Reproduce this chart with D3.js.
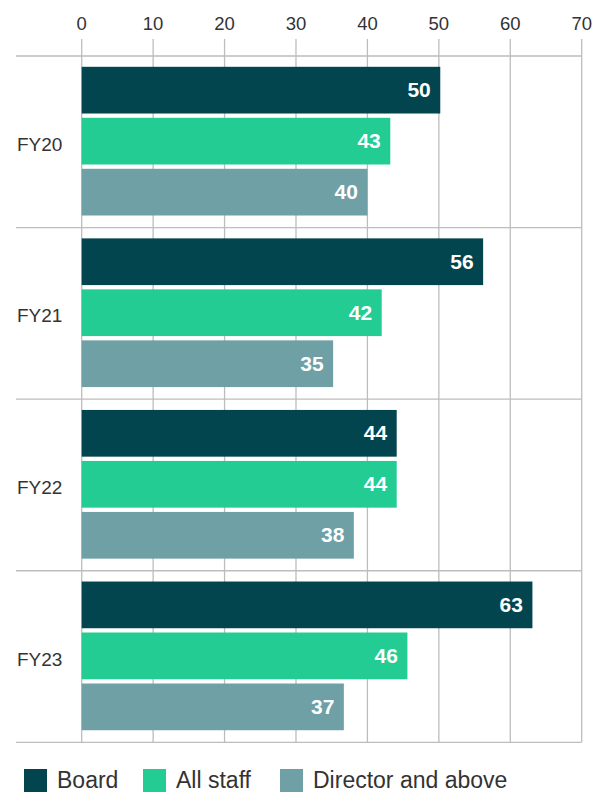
<!DOCTYPE html>
<html>
<head>
<meta charset="utf-8">
<script src="https://cdn.jsdelivr.net/npm/d3@7"></script>
<style>
  body { margin: 0; background: #fff; }
  svg { display: block; font-family: "Liberation Sans", Arial, sans-serif; }
</style>
</head>
<body>
<div id="chart"></div>
<script>
// categories and series
const years = ["FY20", "FY21", "FY22", "FY23"];
const seriesNames = ["Board", "All staff", "Director and above"];
const board = [50.2, 56.2, 44.1, 63.1];
const allStaff = [43.2, 42.0, 44.1, 45.6];
const director = [40.0, 35.2, 38.1, 36.7];
const xTicks = [0, 10, 20, 30, 40, 50, 60, 70];
const colors = ["#02454f", "#22cc92", "#6ea0a6"];

const width = 605, height = 792;

const svg = d3.select("#chart")
  .append("svg")
  .attr("width", width)
  .attr("height", height);

const x = d3.scaleLinear().domain([0, 70]).range([81.7, 581.7]);

const y = d3.scaleBand().domain(years).range([56, 742.3]).padding(0);

const inner = d3.scaleBand()
  .domain(seriesNames)
  .range([10.8, 159.5])
  .paddingInner(0.084);

const rows = years.map((yr, i) => ({
  year: yr,
  values: [board[i], allStaff[i], director[i]].map((v, j) => ({ name: seriesNames[j], value: v, color: colors[j] }))
}));

const gridColor = "#bdbdbd";

// vertical gridlines
svg.append("g")
  .selectAll("line")
  .data(xTicks)
  .enter().append("line")
  .attr("x1", d => x(d)).attr("x2", d => x(d))
  .attr("y1", 39).attr("y2", 742.3)
  .attr("stroke", gridColor)
  .attr("stroke-width", 1.3);

// group separators
const sepY = years.map(d => y(d)).concat([y.range()[1]]);
svg.append("g")
  .selectAll("line")
  .data(sepY)
  .enter().append("line")
  .attr("x1", 16).attr("x2", 581.7)
  .attr("y1", d => d)
  .attr("y2", d => d)
  .attr("stroke", gridColor)
  .attr("stroke-width", 1.3);

// tick labels
svg.append("g")
  .selectAll("text")
  .data(xTicks)
  .enter().append("text")
  .attr("x", d => x(d))
  .attr("y", 30)
  .attr("text-anchor", "middle")
  .attr("font-size", "18.5px")
  .attr("fill", "#333")
  .text(d => d);

// category labels
svg.append("g")
  .selectAll("text")
  .data(years)
  .enter().append("text")
  .attr("x", 17)
  .attr("y", d => y(d) + y.bandwidth() / 2 + 9)
  .attr("font-size", "19px")
  .attr("fill", "#333")
  .text(d => d);

const groups = svg.append("g")
  .selectAll("g")
  .data(rows)
  .enter().append("g")
  .attr("transform", d => `translate(0,${y(d.year)})`);

groups.selectAll("rect")
  .data(d => d.values)
  .enter().append("rect")
  .attr("x", x(0))
  .attr("y", d => inner(d.name))
  .attr("width", d => x(d.value) - x(0))
  .attr("height", inner.bandwidth())
  .attr("fill", d => d.color);

groups.selectAll("text.val")
  .data(d => d.values)
  .enter().append("text")
  .attr("class", "val")
  .attr("x", d => x(d.value) - 9.5)
  .attr("y", d => inner(d.name) + inner.bandwidth() / 2 + 7)
  .attr("text-anchor", "end")
  .attr("font-size", "21px")
  .attr("font-weight", "bold")
  .attr("fill", "#fff")
  .text(d => d3.format(".0f")(d.value));

// legend
const legendX = [24, 143, 280];
const legend = svg.append("g")
  .selectAll("g")
  .data(seriesNames)
  .enter().append("g")
  .attr("transform", (d, i) => `translate(${legendX[i]},769)`);

legend.append("rect")
  .attr("width", 23)
  .attr("height", 23)
  .attr("fill", (d, i) => colors[i]);

legend.append("text")
  .attr("x", 33)
  .attr("y", 19.3)
  .attr("font-size", "23px")
  .attr("fill", "#333")
  .text(d => d);
</script>
</body>
</html>
